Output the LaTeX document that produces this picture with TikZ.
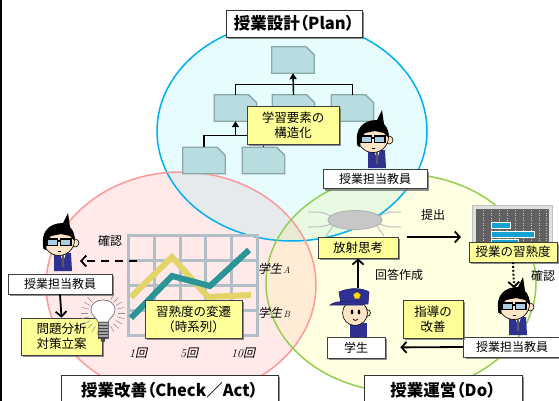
\documentclass[tikz,border=0pt]{standalone}
\usepackage{fontspec}
\setmainfont{Noto Sans CJK JP}
\newfontfamily\jpslant[FakeSlant=0.22]{Noto Sans CJK JP}
\newfontfamily\lmit{Latin Modern Roman}
\usetikzlibrary{arrows.meta,shadows,calc}

\definecolor{planfill}{RGB}{230,252,255}
\definecolor{planline}{RGB}{0,176,240}
\definecolor{chkfill}{RGB}{255,233,233}
\definecolor{chkline}{RGB}{255,153,153}
\definecolor{dofill}{RGB}{255,255,226}
\definecolor{doline}{RGB}{146,208,80}
\definecolor{pcfill}{RGB}{231,234,236}
\definecolor{pdfill}{RGB}{232,250,226}
\definecolor{cdfill}{RGB}{255,235,214}
\definecolor{pcdfill}{RGB}{232,234,212}
\definecolor{docbox}{RGB}{183,221,225}
\definecolor{docline}{RGB}{138,168,170}
\definecolor{note}{RGB}{255,255,153}
\definecolor{suit}{RGB}{46,49,146}
\definecolor{skin}{RGB}{255,228,200}
\definecolor{lens}{RGB}{170,205,225}
\definecolor{gridc}{RGB}{178,190,200}
\definecolor{lineA}{RGB}{42,148,150}
\definecolor{lineB}{RGB}{226,212,104}
\definecolor{barc}{RGB}{20,160,210}

\tikzset{
  shad/.style={drop shadow={shadow xshift=2pt, shadow yshift=-2pt, fill=black!55, opacity=.8}},
  whitebox/.style={draw=black!75, fill=white, line width=0.7pt, inner sep=0pt,
    font=\fontsize{12}{14}\selectfont, shad},
  notebox/.style={draw=black!75, fill=note, line width=0.7pt, inner sep=0pt,
    align=center, font=\fontsize{12.5}{15}\selectfont, shad},
  titlebox/.style={draw=black!80, fill=white, line width=0.8pt, inner sep=0pt,
    font=\fontsize{16.5}{18}\selectfont\bfseries\addfontfeatures{RawFeature=+palt}, shad},
  docnode/.style={inner sep=0pt, minimum width=42pt, minimum height=26pt},
  docshape/.style={fill=docbox, draw=docline, line width=1.3pt, line join=miter},
  tree/.style={line width=1.4pt, black},
  treearr/.style={tree, -{Triangle[length=6pt,width=7pt]}},
  flow/.style={line width=1.8pt, black, -{Straight Barb[length=5pt,width=11pt,line width=1.8pt]}},
  plain/.style={font=\fontsize{12}{14}\selectfont, inner sep=0pt},
  sketch/.style={black!25, line width=1pt},
  teacher/.pic={
    % suit with shirt and tie
    \fill[suit] (-5,13) -- (12,13) -- (13,31) -- (-5,31) -- cycle;
    \fill[white] (1,13) -- (7,13) -- (4,22) -- cycle;
    \fill[black!65] (3.2,15) -- (4.8,15) -- (5.2,27) -- (2.8,27) -- cycle;
    % ear and face
    \filldraw[skin, draw=black, line width=.6pt] (16,3) circle (4);
    \filldraw[skin, draw=black, line width=.6pt] (0,0) circle (15.5);
    % hair with a spike
    \fill[black] (-15.5,9) .. controls (-19,-8) and (-10,-17) .. (4,-17)
      -- (9,-27) -- (11,-13) .. controls (15,-9) and (16,-4) .. (15.5,1)
      -- (11,-4) -- (2,-6) -- (-8,-4) -- (-12,1) -- (-13,10) -- cycle;
    % glasses
    \filldraw[fill=lens, draw=black, line width=1.1pt] (-12,-1) rectangle (-1.5,5.5);
    \filldraw[fill=lens, draw=black, line width=1.1pt] (1.5,-1) rectangle (12,5.5);
    \draw[black, line width=1.1pt] (-1.5,1) -- (1.5,1);
    \draw[black, line width=.8pt] (-1,11) -- (2,11);
  },
  student/.pic={
    % body
    \fill[suit] (-5,10) -- (12,10) -- (12,24) -- (-5,24) -- cycle;
    % ear and face
    \filldraw[skin, draw=black, line width=.6pt] (12,0) circle (3.5);
    \filldraw[skin, draw=black, line width=.6pt] (0,0) circle (12.5);
    % eyes and mouth
    \fill[black] (-3,-1) ellipse (1.3 and 2.4);
    \fill[black] (4,-1) ellipse (1.3 and 2.4);
    \draw[black, line width=.7pt] (-2,6) .. controls (0,8) .. (3,6);
    % cap
    \filldraw[fill=suit, draw=suit!70!black, line width=.6pt]
      (-14,-9) -- (-16,-21) .. controls (-5,-26) and (8,-25) .. (14,-21) -- (13,-9) -- cycle;
    \filldraw[fill=suit, draw=suit!70!black, line width=.6pt]
      (-25,-8) .. controls (-20,-13) and (0,-12) .. (8,-11) -- (8,-8) -- cycle;
    \filldraw[fill=yellow!90!orange, draw=orange!80!black, line width=.4pt]
      (2,-21) -- (5.5,-18.5) -- (4.3,-14.5) -- (-0.3,-14.5) -- (-1.5,-18.5) -- cycle;
  },
  bulb/.pic={
    \foreach \a in {-60,-45,...,225} {
      \draw[black!45, line width=.5pt] (\a:15) -- (\a:22);
    }
    \filldraw[fill=white, draw=black!55, line width=.7pt]
      (-5,9) .. controls (-6,5) and (-12,3) .. (-12,-3)
      .. controls (-12,-10) and (-6,-13) .. (0,-13)
      .. controls (6,-13) and (12,-10) .. (12,-3)
      .. controls (12,3) and (6,5) .. (5,9) -- cycle;
    \filldraw[fill=black!35, draw=black!60, line width=.5pt] (-5,9) rectangle (5,25);
    \foreach \yy in {12,15,...,24} {
      \draw[black!75, line width=.8pt] (-5,\yy) -- (5,\yy);
    }
    \fill[black!70] (-2.5,25) -- (2.5,25) -- (1.5,29) -- (-1.5,29) -- cycle;
  }
}

% a document card with a cut top-right corner, placed as a named node
\newcommand\doccard[3]{%
  \node[docnode] (#1) at (#2,#3) {};
  \fill[docshape] (#1.south west) -- (#1.north west) -- ($(#1.north east)+(-8,0)$)
    -- ($(#1.north east)+(0,8)$) -- (#1.south east) -- cycle;
}

\begin{document}
\begin{tikzpicture}[x=1pt, y=-1pt]
\useasboundingbox (0,0) rectangle (559,401);
\fill[white] (0,0) rectangle (559,401);

\def\planpath{(292,131) ellipse [x radius=135, y radius=110]}
\def\chkpath{(181,285) ellipse [x radius=135, y radius=113]}
\def\dopath{(401,283) ellipse [x radius=135, y radius=109]}

% circle fills and their overlaps
\fill[planfill] \planpath;
\fill[chkfill] \chkpath;
\fill[dofill] \dopath;
\begin{scope}\clip \planpath; \fill[pcfill] \chkpath; \end{scope}
\begin{scope}\clip \planpath; \fill[pdfill] \dopath; \end{scope}
\begin{scope}\clip \chkpath; \fill[cdfill] \dopath; \end{scope}
\begin{scope}\clip \planpath; \clip \chkpath; \fill[pcdfill] \dopath; \end{scope}
% circle outlines
\draw[planline, line width=1.5pt] \planpath;
\draw[chkline, line width=1.5pt] \chkpath;
\draw[doline, line width=1.5pt] \dopath;

% frame edge on the left
\draw[black, line width=1.5pt] (0.75,0) -- (0.75,401);

% ---------------- Plan ----------------
\doccard{t0}{293}{60}
\doccard{m1}{235.5}{108}
\doccard{m2}{293.5}{108}
\doccard{m3}{352.5}{108}
\doccard{b1}{204}{160.5}
\doccard{b2}{263.5}{160.5}
\draw[tree] (m1.north) -- ++(0,-10) -| (m3.north);
\draw[treearr] (m2.north) -- (t0.south);
\coordinate (bj) at ($(m1.south)+(0,14)$);
\draw[tree] (b1.north) |- (bj) -| (b2.north);
\draw[treearr] (bj) -- (m1.south);
\node[notebox, minimum width=92pt, minimum height=38pt] (struct) at (293,125)
  {学習要素の\\構造化};

\pic at (373,137) {teacher};
\node[whitebox, minimum width=104pt, minimum height=19pt] (tP) at (375,179) {授業担当教員};

\node[titlebox, minimum width=136pt, minimum height=27pt] (plan) at (294,23.5)
  {授業設計（Plan）};

% ---------------- Check / Act ----------------
% progress chart
\draw[gridc, line width=3pt] (128,235) rectangle (257,335);
\foreach \x in {154,180,205,231} { \draw[gridc, line width=3pt] (\x,235) -- (\x,335); }
\foreach \y in {260,285,310} { \draw[gridc, line width=3pt] (128,\y) -- (257,\y); }
\coordinate (chartL) at (137,261);
\draw[lineB, line width=6pt] (131,297) -- (172,257) -- (208,297) -- (251,295);
\draw[lineA, line width=6pt] (131,318) -- (172,276) -- (210,286) -- (249,250);
\node[plain] (sA) at (274,269) {{\jpslant 学生}\kern1.5pt{\fontsize{9}{10}\selectfont\lmit\itshape A}};
\node[plain] (sB) at (274,313) {{\jpslant 学生}\kern1.5pt{\fontsize{9}{10}\selectfont\lmit\itshape B}};
\node[plain] (r1) at (138,353) {{\lmit\itshape 1}{\jpslant 回}};
\node[plain] (r5) at (189,353) {{\lmit\itshape 5}{\jpslant 回}};
\node[plain] (r10) at (243,353) {{\lmit\itshape 10}{\jpslant 回}};
\node[notebox, minimum width=97pt, minimum height=38pt] (trend) at (193.5,319)
  {習熟度の変遷\\（時系列）};

\pic at (59,240) {teacher};
\coordinate (tCface) at (80,261);
\node[whitebox, minimum width=104pt, minimum height=20pt] (tC) at (60,284) {授業担当教員};
\node[plain] (chk1) at (110,241) {確認};
\draw[flow, dashed, dash pattern=on 8pt off 6pt] (chartL) -- (tCface);
\node[notebox, minimum width=81pt, minimum height=37pt] (plan2) at (61.5,336.5)
  {問題分析\\対策立案};
\draw[flow] (tC.south) -- (plan2.north);
\pic at (103,313) {bulb};

\node[titlebox, minimum width=217pt, minimum height=30pt] (chk) at (169.5,390)
  {授業改善（Check／Act）};

% ---------------- Do ----------------
% radial thinking sketch
\draw[sketch] (308,212) .. controls (322,212) .. (331,216);
\draw[sketch] (308,227) .. controls (322,227) .. (331,224);
\draw[sketch] (379,216) .. controls (388,212) .. (401,212);
\draw[sketch] (379,224) .. controls (388,227) .. (401,227);
\draw[sketch] (333,226) -- (326,236);
\draw[sketch] (377,226) -- (384,236);
\filldraw[fill=black!22, draw=black!32, line width=.8pt] (355,220) ellipse [x radius=27, y radius=9.5];
\node[notebox, minimum width=80pt, minimum height=21pt] (rad) at (358,247.5) {放射思考};

% progress screen
\node[draw=black!25, fill=black!12, line width=1pt, minimum width=80pt, minimum height=41pt,
  inner sep=0pt] (scr) at (512,225.5) {};
\fill[black!62] (476,209) rectangle (549,246);
\foreach \x in {483,491,499,507,515,523,531,539,546} {
  \draw[white!80!black, line width=.6pt, dash pattern=on 1pt off 1.5pt] (\x,210) -- (\x,245);
}
\filldraw[fill=barc, draw=white, line width=.5pt] (491,222) rectangle (510,228);
\filldraw[fill=barc, draw=white, line width=.5pt] (491,231) rectangle (534,237);
\filldraw[fill=barc, draw=white, line width=.5pt] (491,239) rectangle (518,244);
\node[notebox, minimum width=88pt, minimum height=20pt] (rate) at (513,252) {授業の習熟度};

\coordinate (subS) at (407,237);
\coordinate (subE) at (461,237);
\draw[flow] (subS) -- (subE);
\node[plain] (sub) at (433,215) {提出};

\pic at (514,304) {teacher};
\coordinate (tDtop) at (514,288);
\draw[flow, dotted, line width=2pt] (rate.south) -- (tDtop);
\node[plain] (chk2) at (543,276) {確認};
\node[whitebox, minimum width=97pt, minimum height=20pt] (tD) at (512,347) {授業担当教員};

\pic at (355,313) {student};
\coordinate (stuTop) at (358,288);
\node[whitebox, minimum width=58pt, minimum height=21pt] (stu) at (356,347.5) {学生};
\draw[flow] (stuTop) -- (rad.south);
\node[plain] (ans) at (399,275) {回答作成};

\node[notebox, minimum width=60pt, minimum height=38pt] (guide) at (433,319) {指導の\\改善};
\draw[flow, shorten >=15pt] (tD.west) -- (stu.east);

\node[titlebox, minimum width=158pt, minimum height=30pt] (do) at (443,390)
  {授業運営（Do）};
\end{tikzpicture}
\end{document}
